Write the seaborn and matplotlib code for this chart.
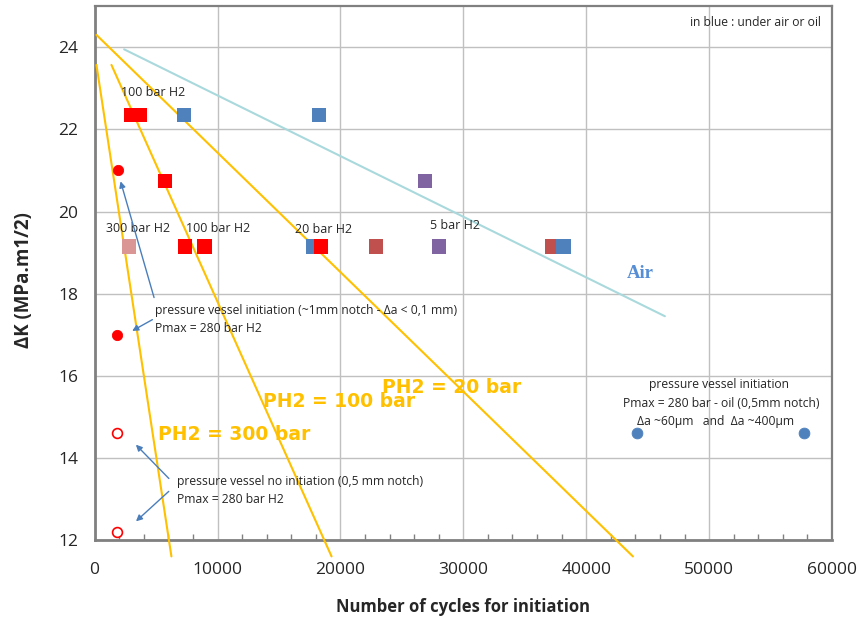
import matplotlib
matplotlib.use("Agg")
import matplotlib.pyplot as plt
import seaborn as sns
import pandas as pd

# ---------------- data ----------------
sq_x = [3000, 3700, 7300, 18250, 5700, 26900, 2800, 7350, 8950, 17750, 18400, 22900, 28000, 37250, 38150]
sq_y = [22.35, 22.35, 22.35, 22.35, 20.75, 20.75, 19.15, 19.15, 19.15, 19.15, 19.15, 19.15, 19.15, 19.15, 19.15]
sq_env = ["H2 red", "H2 red", "air", "air", "H2 red", "H2 purple", "H2 pink", "H2 red", "H2 red",
          "air", "H2 red", "H2 brown", "H2 purple", "H2 brown", "air"]

vessel_fill_x = [1900, 1800]
vessel_fill_y = [21.0, 17.0]
vessel_open_x = [1800, 1800]
vessel_open_y = [14.6, 12.2]
oil_x = [44100, 57700]
oil_y = [14.6, 14.6]

line300_x = [150, 6250]
line300_y = [23.57, 11.6]
line100_x = [1370, 19280]
line100_y = [23.57, 11.6]
line20_x = [150, 43800]
line20_y = [24.3, 11.6]
air_x = [2400, 46400]
air_y = [23.95, 17.45]

x_ticks = [0, 10000, 20000, 30000, 40000, 50000, 60000]
y_ticks = [12, 14, 16, 18, 20, 22, 24]

palette = {"H2 red": "#FF0000", "air": "#4F81BD", "H2 purple": "#8064A2",
           "H2 brown": "#C0504D", "H2 pink": "#D99694"}

# ---------------- figure ----------------
sns.set_theme(style="white")
plt.rcParams["font.family"] = ["Open Sans", "DejaVu Sans"]

fig = plt.figure(figsize=(8.6, 6.2), dpi=100)
ax = fig.add_axes([0.110, 0.129, 0.8575, 0.861])

ORANGE = "#FFC000"
for lx, ly in [(line300_x, line300_y), (line100_x, line100_y), (line20_x, line20_y)]:
    sns.lineplot(x=lx, y=ly, ax=ax, color=ORANGE, linewidth=1.5, zorder=3)
sns.lineplot(x=air_x, y=air_y, ax=ax, color="#A9D9DC", linewidth=1.5, zorder=3)
for ln in ax.lines:
    ln.set_clip_on(False)

df_sq = pd.DataFrame({"x": sq_x, "y": sq_y, "env": sq_env})
sns.scatterplot(data=df_sq, x="x", y="y", hue="env", palette=palette, marker="s", s=105,
                linewidth=0, ax=ax, legend=False, zorder=4)

sns.scatterplot(x=vessel_fill_x, y=vessel_fill_y, color="#FF0000", s=55, edgecolor="#FF0000",
                ax=ax, zorder=4)
sns.scatterplot(x=vessel_open_x, y=vessel_open_y, facecolor="white", edgecolor="#FF0000", s=50,
                linewidth=1.2, ax=ax, zorder=4)
sns.scatterplot(x=oil_x, y=oil_y, color="#4F81BD", s=60, edgecolor="#4F81BD", ax=ax, zorder=4)

ax.set_xlim(0, 60000)
ax.set_ylim(12, 25)
ax.set_xticks(x_ticks)
ax.set_yticks(y_ticks)
ax.set_xticklabels([str(t) for t in x_ticks])
ax.set_yticklabels([str(t) for t in y_ticks])
ax.set_xticks(range(0, 60001, 2000), minor=True)
ax.grid(True, which="major", color="#C0C0C0", linewidth=1.0)
ax.set_axisbelow(True)
ax.tick_params(axis="both", which="major", labelsize=12.5, colors="#262626", length=4,
               direction="in", color="#808080")
ax.tick_params(axis="x", which="minor", length=4, direction="in", color="#808080", bottom=True)
ax.tick_params(axis="x", pad=16)
ax.tick_params(axis="y", pad=12)
for side in ["left", "bottom"]:
    ax.spines[side].set_color("#808080")
    ax.spines[side].set_linewidth(2.0)
for side in ["top", "right"]:
    ax.spines[side].set_color("#808080")
    ax.spines[side].set_linewidth(1.6)

ax.set_xlabel("Number of cycles for initiation", fontsize=12, fontweight="bold")
ax.xaxis.set_label_coords(0.5, -0.108)
ax.set_ylabel("ΔK (MPa.m1/2)", fontsize=13.5, fontweight="bold")
ax.yaxis.set_label_coords(-0.082, 0.487)

# ---------------- annotations ----------------
small = dict(fontsize=9, color="#262626")
ax.text(2150, 22.9, "100 bar H2", va="center", ha="left", **small)
ax.text(950, 19.58, "300 bar H2", va="center", ha="left", **small)
ax.text(7450, 19.58, "100 bar H2", va="center", ha="left", **small)
ax.text(16300, 19.55, "20 bar H2", va="center", ha="left", **small)
ax.text(27300, 19.65, "5 bar H2", va="center", ha="left", **small)
ax.text(59100, 24.6, "in blue : under air or oil", va="center", ha="right", fontsize=8.7, color="#262626")

ax.text(44400, 18.5, "Air", va="center", ha="center", fontsize=13.5, fontweight="bold",
        color="#558ED5", family="Liberation Serif")

big = dict(fontsize=13.5, fontweight="bold", color=ORANGE, family="DejaVu Sans", va="center", ha="left")
ax.text(5150, 14.56, "PH2 = 300 bar", **big)
ax.text(13700, 15.38, "PH2 = 100 bar", **big)
ax.text(23400, 15.72, "PH2 = 20 bar", **big)

note = dict(va="center", fontsize=8.7, color="#262626")
ax.text(4900, 17.58, "pressure vessel initiation (~1mm notch - Δa < 0,1 mm)", ha="left", **note)
ax.text(4900, 17.15, "Pmax = 280 bar H2", ha="left", **note)
ax.text(6700, 13.42, "pressure vessel no initiation (0,5 mm notch)", ha="left", **note)
ax.text(6700, 12.98, "Pmax = 280 bar H2", ha="left", **note)

ax.text(50800, 15.78, "pressure vessel initiation", ha="center", **note)
ax.text(50950, 15.33, "Pmax = 280 bar - oil (0,5mm notch)", ha="center", **note)
ax.text(50500, 14.88, "Δa ~60µm   and  Δa ~400µm", ha="center", **note)

arrow = dict(arrowstyle="-|>", color="#4A7EBB", lw=1.0, mutation_scale=9)
ax.annotate("", xy=(2050, 20.8), xytext=(4900, 17.84), arrowprops=arrow, zorder=5)
ax.annotate("", xy=(2860, 17.06), xytext=(4900, 17.40), arrowprops=arrow, zorder=5)
ax.annotate("", xy=(3200, 14.37), xytext=(6200, 13.45), arrowprops=arrow, zorder=5)
ax.annotate("", xy=(3200, 12.41), xytext=(6200, 13.23), arrowprops=arrow, zorder=5)

fig.savefig("out.png", dpi=100)
